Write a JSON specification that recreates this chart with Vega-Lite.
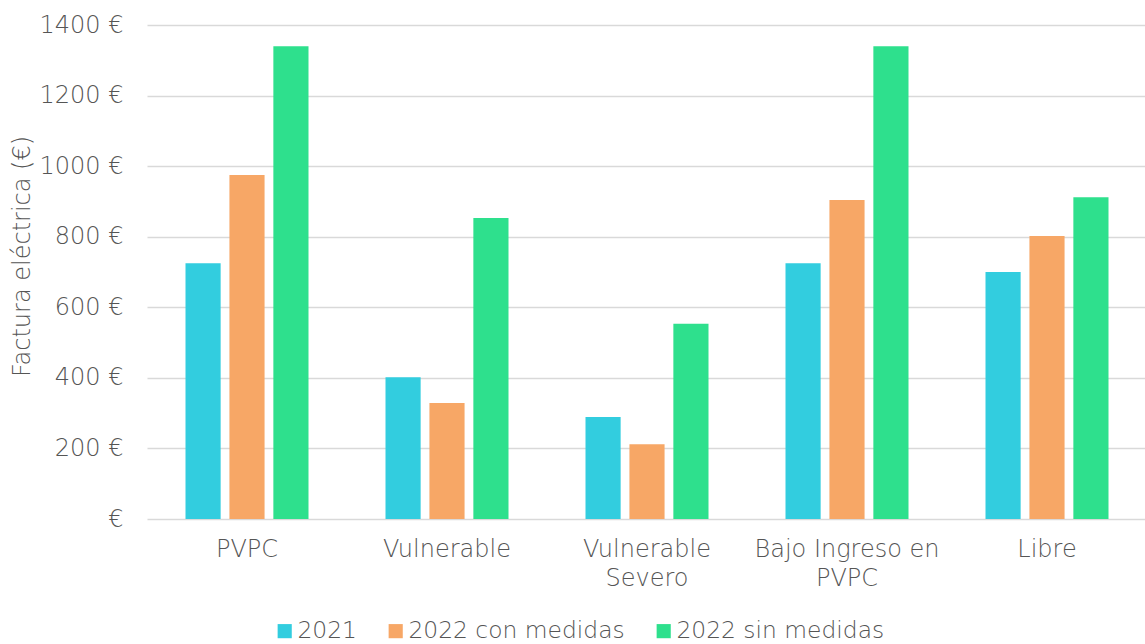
{
  "$schema": "https://vega.github.io/schema/vega-lite/v6.json",
  "width": 1000,
  "height": 494,
  "autosize": {"type": "none"},
  "padding": {"left": 147, "top": 25, "right": 0, "bottom": 125},
  "config": {
    "font": "DejaVu Sans",
    "view": {"stroke": null},
    "axis": {"labelColor": "#555555", "titleColor": "#555555", "labelFont": "DejaVu Sans", "titleFont": "DejaVu Sans", "labelFontWeight": 200, "titleFontWeight": 200}
  },
  "data": {
    "values": [
      {"cat": "PVPC", "serie": "2021", "v": 725},
      {"cat": "PVPC", "serie": "2022 con medidas", "v": 975},
      {"cat": "PVPC", "serie": "2022 sin medidas", "v": 1340},
      {"cat": "Vulnerable", "serie": "2021", "v": 402},
      {"cat": "Vulnerable", "serie": "2022 con medidas", "v": 329},
      {"cat": "Vulnerable", "serie": "2022 sin medidas", "v": 853},
      {"cat": "Vulnerable Severo", "serie": "2021", "v": 289},
      {"cat": "Vulnerable Severo", "serie": "2022 con medidas", "v": 212},
      {"cat": "Vulnerable Severo", "serie": "2022 sin medidas", "v": 553},
      {"cat": "Bajo Ingreso en PVPC", "serie": "2021", "v": 725},
      {"cat": "Bajo Ingreso en PVPC", "serie": "2022 con medidas", "v": 904},
      {"cat": "Bajo Ingreso en PVPC", "serie": "2022 sin medidas", "v": 1340},
      {"cat": "Libre", "serie": "2021", "v": 700},
      {"cat": "Libre", "serie": "2022 con medidas", "v": 802},
      {"cat": "Libre", "serie": "2022 sin medidas", "v": 912}
    ]
  },
  "mark": {"type": "bar"},
  "encoding": {
    "x": {
      "field": "cat", "type": "nominal", "sort": null,
      "scale": {"paddingInner": 0.385, "paddingOuter": 0.1925},
      "axis": {
        "title": null, "domain": false, "ticks": false, "labelAngle": 0,
        "labelFontSize": 24, "labelPadding": 18, "labelLineHeight": 29, "labelLimit": 300,
        "labelExpr": "datum.value == 'Vulnerable Severo' ? ['Vulnerable','Severo'] : datum.value == 'Bajo Ingreso en PVPC' ? ['Bajo Ingreso en','PVPC'] : datum.value"
      }
    },
    "xOffset": {"field": "serie", "type": "nominal", "scale": {"paddingInner": 0.2}},
    "y": {
      "field": "v", "type": "quantitative",
      "scale": {"domain": [0, 1400]},
      "axis": {
        "title": "Factura eléctrica (€)", "titleFontSize": 24, "titlePadding": 5, "titleY": 231,
        "domain": false, "ticks": false, "values": [0, 200, 400, 600, 800, 1000, 1200, 1400],
        "labelFontSize": 24, "labelPadding": 24,
        "gridColor": "#d9d9d9", "gridWidth": 1.5,
        "labelExpr": "datum.value == 0 ? '€' : datum.value + ' €'"
      }
    },
    "color": {
      "field": "serie", "type": "nominal",
      "scale": {"domain": ["2021", "2022 con medidas", "2022 sin medidas"], "range": ["#32CDDF", "#F7A766", "#2EE08D"]},
      "legend": {
        "title": null, "orient": "none", "direction": "horizontal",
        "legendX": 126, "legendY": 594,
        "symbolType": "square", "symbolSize": 200, "symbolStrokeWidth": 0,
        "labelFontSize": 23.4, "labelColor": "#555555", "labelFont": "DejaVu Sans", "labelFontWeight": 200, "labelLimit": 400,
        "columnPadding": 27, "labelOffset": 1
      }
    }
  }
}
